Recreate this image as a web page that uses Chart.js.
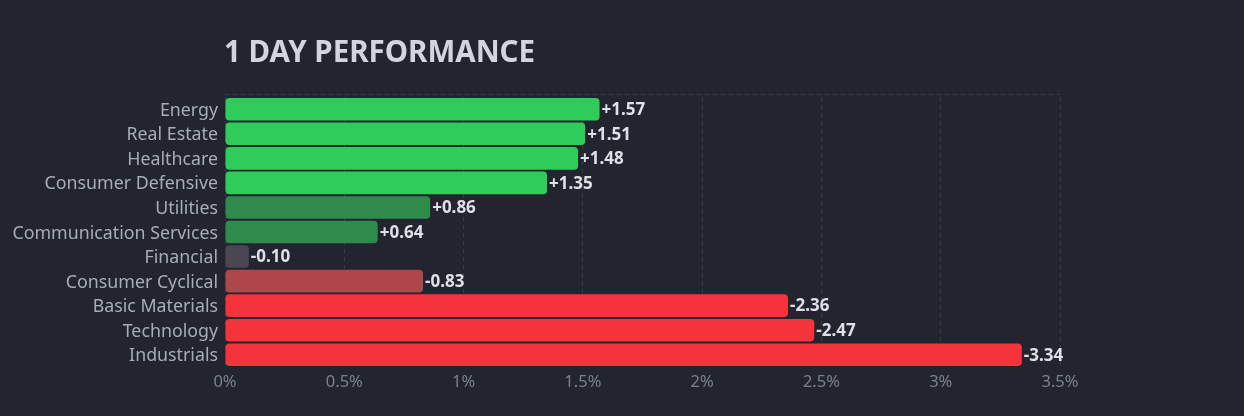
<!DOCTYPE html>
<html>
<head>
<meta charset="utf-8">
<script src="https://cdn.jsdelivr.net/npm/chart.js@4.4.1/dist/chart.umd.min.js"></script>
<style>
    html, body { margin: 0; padding: 0; background: #22252f; overflow: hidden; }
    #perfChart { display: block; }
</style>
</head>
<body>
<canvas id="perfChart" width="1244" height="416"></canvas>
<script>
// Sector performance, 1 day (signed %)
const sectors = ["Energy", "Real Estate", "Healthcare", "Consumer Defensive", "Utilities",
    "Communication Services", "Financial", "Consumer Cyclical", "Basic Materials", "Technology", "Industrials"];
const changes = [1.57, 1.51, 1.48, 1.35, 0.86, 0.64, -0.10, -0.83, -2.36, -2.47, -3.34];
const axisTicks = [0, 0.5, 1, 1.5, 2, 2.5, 3, 3.5];
const chartTitle = "1 DAY PERFORMANCE";

function barColor(v) {
    if (v >= 1) return '#2fcb5b';
    if (v >= 0.5) return '#2e8b4c';
    if (v > -0.5) return '#4a4652';
    if (v > -1) return '#ae464b';
    return '#f5333b';
}

const gridColor = 'rgba(255,255,255,0.11)';
const fontName = '"Noto Sans", Roboto, sans-serif';

// draws title, top dashed border and the value labels
const extras = {
    id: 'extras',
    beforeDatasetsDraw(chart) {
        const { ctx, chartArea } = chart;
        ctx.save();
        ctx.strokeStyle = gridColor;
        ctx.lineWidth = 1;
        ctx.setLineDash([4, 4]);
        ctx.beginPath();
        ctx.moveTo(chartArea.left, chartArea.top - 2.5);
        ctx.lineTo(chartArea.right, chartArea.top - 2.5);
        ctx.stroke();
        ctx.restore();
    },
    afterDatasetsDraw(chart) {
        const { ctx, chartArea } = chart;
        ctx.save();
        ctx.fillStyle = '#d2d5dd';
        ctx.font = 'bold 29.5px ' + fontName;
        ctx.textBaseline = 'middle';
        ctx.fillText(chartTitle, chartArea.left - 1, 54);

        ctx.fillStyle = '#dde0e7';
        ctx.font = 'bold 17px ' + fontName;
        chart.getDatasetMeta(0).data.forEach((bar, i) => {
            const v = changes[i];
            const txt = (v > 0 ? '+' : '') + v.toFixed(2);
            ctx.fillText(txt, bar.x + 2, bar.y + 1);
        });
        ctx.restore();
    }
};

const ctx = document.getElementById('perfChart').getContext('2d');
new Chart(ctx, {
    type: 'bar',
    data: {
        labels: sectors,
        datasets: [{
            data: changes.map(v => Math.abs(v)),
            backgroundColor: changes.map(barColor),
            borderRadius: 4,
            borderSkipped: false,
            barPercentage: 0.92,
            categoryPercentage: 1.0
        }]
    },
    options: {
        indexAxis: 'y',
        responsive: false,
        animation: false,
        devicePixelRatio: 1,
        layout: { padding: { top: 97, right: 184, bottom: 0, left: 0 } },
        plugins: {
            legend: { display: false },
            tooltip: { enabled: false }
        },
        scales: {
            x: {
                min: axisTicks[0],
                max: axisTicks[axisTicks.length - 1],
                afterBuildTicks: scale => { scale.ticks = axisTicks.map(v => ({ value: v })); },
                afterFit: scale => { scale.height = 49; },
                border: { display: false, dash: [4, 4] },
                grid: { color: gridColor, drawTicks: false },
                ticks: {
                    color: '#7c808b',
                    font: { family: fontName, size: 16.5 },
                    padding: 5,
                    callback: v => v + '%'
                }
            },
            y: {
                afterFit: scale => { scale.width = 225; },
                border: { display: false },
                grid: { display: false, tickLength: 0 },
                ticks: {
                    color: '#a8acb7',
                    font: { family: fontName, size: 17.8 },
                    padding: 7,
                    labelOffset: 1.5,
                    autoSkip: false
                }
            }
        }
    },
    plugins: [extras]
});
</script>
</body>
</html>
